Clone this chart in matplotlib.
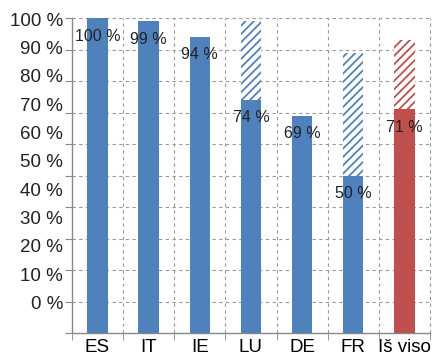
import numpy as np
import matplotlib
matplotlib.use("Agg")
import matplotlib.pyplot as plt
import matplotlib.transforms as mtransforms

plt.rcParams['font.family'] = ['Liberation Sans', 'DejaVu Sans']
plt.rcParams['hatch.linewidth'] = 1.3

# Data
categories = ["ES", "IT", "IE", "LU", "DE", "FR", "Iš viso"]
solid_vals = [100, 99, 94, 74, 69, 50, 71]
hatched_top = [100, 99, 94, 99, 69, 89, 93]
ytick_labels = ["100 %", "90 %", "80 %", "70 %", "60 %", "50 %",
                "40 %", "30 %", "20 %", "10 %", "0 %"]

blue = "#4F81BD"
red = "#C0504D"
colors = [blue] * 6 + [red]

fig = plt.figure(figsize=(4.4, 3.6), dpi=100)
ax = fig.add_axes([0.1636, 0.075, 0.8136, 0.875])

x = np.arange(len(categories))
w = 0.4

# solid part
ax.bar(x, solid_vals, width=w, color=colors, linewidth=0, zorder=3)

# hatched extension where the total is above the solid value
for xi, s, t, c in zip(x, solid_vals, hatched_top, colors):
    if t > s:
        ax.bar(xi, t - s, bottom=s, width=w, color="white", edgecolor=c,
               hatch="////", linewidth=0, zorder=3)

# value labels sitting just under the top of the solid bar
for xi, s in zip(x, solid_vals):
    ax.annotate(f"{s} %", (xi, s), xytext=(0, -13), textcoords="offset points",
                ha="center", va="center", fontsize=11.5, color="#222222", zorder=4)

ax.set_xlim(-0.5, len(categories) - 0.5)
ax.set_ylim(0, 100)

# x axis: labels at bar centres, ticks/grid on category borders
ax.set_xticks(x)
ax.set_xticklabels(categories, fontsize=13.5)
ax.tick_params(axis="x", which="major", length=0, pad=4)
ax.set_xticks(np.arange(-0.5, len(categories)), minor=True)
ax.tick_params(axis="x", which="minor", length=5, color="#888888")

# y axis: ticks every 10 %, labels drawn by hand (they drift in the original)
ax.set_yticks(np.arange(0, 101, 10))
ax.set_yticklabels([])
ax.tick_params(axis="y", length=5, color="#888888")
trans = mtransforms.blended_transform_factory(ax.transAxes, ax.transData)
for lab, yp in zip(ytick_labels, np.linspace(99, 9, len(ytick_labels))):
    ax.text(-0.025, yp, lab, transform=trans, ha="right", va="center",
            fontsize=13.5, color="#222222")

grid_kw = dict(color="#999999", linestyle=(0, (3, 3)), linewidth=0.8, zorder=1)
for yv in range(10, 101, 10):
    ax.axhline(yv, clip_on=False, **grid_kw)
for xv in np.arange(0.5, len(categories)):
    ax.axvline(xv, clip_on=False, **grid_kw)

for side in ["top", "right"]:
    ax.spines[side].set_visible(False)
for side in ["left", "bottom"]:
    ax.spines[side].set_color("#888888")
    ax.spines[side].set_linewidth(1.0)

fig.savefig("out.png", dpi=100, facecolor="white")
